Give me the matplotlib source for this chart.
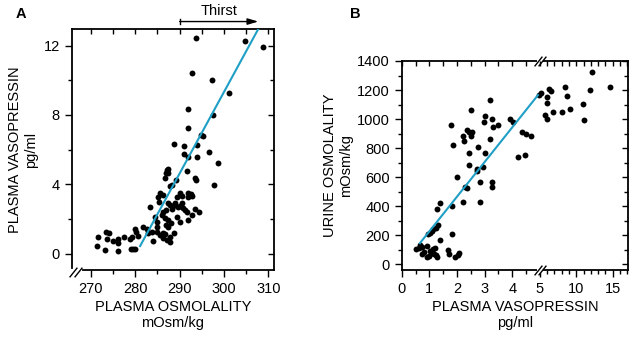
import matplotlib
matplotlib.use('Agg')
import matplotlib.pyplot as plt
import matplotlib.transforms as mtransforms
import numpy as np

plt.rcParams['font.family'] = ['Liberation Sans', 'DejaVu Sans']
plt.rcParams['font.size'] = 10.5

# --- panel A: plasma osmolality vs plasma vasopressin ---
osm_a = [293.6, 304.8, 308.7, 292.7, 297.3, 301.2, 291.8, 297.6, 291.8, 294.8,
         295.3, 288.8, 291.0, 293.8, 296.5, 291.0, 291.8, 294.0, 298.7, 287.4,
         297.8, 291.7, 293.4, 293.6,
         271.3, 271.6, 273.1, 273.4, 274.0, 273.7, 275.1, 276.1, 276.2, 276.1,
         277.5, 278.8, 279.0, 279.6, 280.0, 279.2, 279.9, 280.2, 280.7, 281.8,
         282.6, 282.9, 283.9, 283.7, 283.3, 284.4, 284.8, 285.0, 284.9, 285.2,
         285.4, 285.6, 286.2, 286.2, 286.7, 285.6, 286.3, 286.9, 287.4, 286.7,
         287.1, 287.8, 288.2, 289.2, 287.4, 287.8, 286.9, 286.3, 286.0, 286.7,
         287.4, 288.0, 286.9, 287.4, 287.8, 287.8, 287.1, 288.7, 288.2, 288.6,
         288.9, 289.7, 290.1, 290.1, 290.5, 290.5, 290.7, 289.5, 290.1, 291.2,
         291.6, 291.9, 292.5, 292.7, 291.8, 291.9, 292.7, 293.4, 294.3, 289.3]
avp_a = [12.43, 12.29, 11.91, 10.41, 10.02, 9.29, 8.37, 8.02, 7.24, 6.85,
         6.79, 6.31, 6.21, 6.27, 5.87, 5.74, 5.56, 5.60, 5.25, 4.87,
         3.94, 4.77, 4.35, 4.25,
         0.44, 0.96, 0.19, 1.23, 1.21, 0.85, 0.73, 0.83, 0.64, 0.17,
         0.96, 0.83, 0.25, 0.25, 0.25, 0.98, 1.41, 1.23, 1.00, 1.52,
         1.41, 1.18, 0.72, 1.27, 2.68, 2.14, 1.85, 1.56, 1.27, 3.29,
         3.00, 3.52, 3.39, 1.18, 1.14, 1.06, 0.89, 4.64, 4.64, 4.35,
         4.83, 3.90, 3.96, 4.25, 2.90, 2.80, 2.52, 2.42, 2.23, 2.04,
         1.94, 1.75, 1.66, 1.52, 0.98, 0.69, 0.79, 1.18, 2.56, 2.75,
         2.90, 2.71, 2.75, 3.49, 3.33, 2.90, 2.62, 2.14, 1.85, 2.52,
         2.42, 3.49, 3.45, 3.33, 3.25, 1.94, 2.23, 2.56, 2.42, 3.29]
fit_a_x = [281.1, 307.7]
fit_a_y = [0.44, 12.96]
thirst_start, thirst_end = 290.0, 307.7

# --- panel B: plasma vasopressin vs urine osmolality ---
avp_b = [0.51, 0.62, 0.66, 0.72, 0.72, 0.80, 0.90, 0.92, 1.00, 1.02,
         1.08, 1.14, 1.20, 1.18, 1.24, 1.26, 0.96, 1.02, 1.08, 1.15,
         1.24, 1.30, 1.26, 1.38, 1.38, 1.66, 1.70, 1.81, 1.81, 1.99,
         1.92, 2.04, 2.08, 2.22, 2.29, 2.35, 2.71, 2.83, 2.83, 3.27,
         3.27,
         3.21, 2.50, 1.77, 1.84, 3.01, 2.97, 3.26, 3.29, 3.48, 3.91,
         4.01, 2.37, 2.43, 2.56, 2.22, 2.25, 2.50, 3.19, 2.77, 2.43,
         3.02, 2.44, 2.73, 2.95, 4.37, 4.48, 4.69, 4.21, 4.45, 4.97,
         5.20, 6.27, 6.47, 6.00, 6.00, 5.68, 6.00, 6.83, 8.00, 8.42,
         8.79, 9.20, 10.9, 11.07, 11.94, 12.2, 14.6]
uosm_b = [103, 110, 133, 117, 68, 87, 126, 48, 57, 92,
          76, 108, 112, 70, 62, 50, 205, 216, 232, 241,
          252, 271, 379, 421, 168, 99, 68, 209, 404, 600,
          52, 62, 80, 428, 531, 527, 639, 566, 428, 563,
          531,
          1133, 1064, 961, 823, 1018, 983, 1000, 945, 959, 1000,
          983, 926, 914, 914, 880, 852, 880, 864, 807, 765,
          765, 680, 655, 669, 914, 899, 885, 738, 754, 1168,
          1179, 1207, 1190, 1152, 1110, 1030, 1002, 1048, 1048, 1218,
          1156, 1071, 1103, 995, 1202, 1324, 1221]
fit_b_x = [0.66, 4.93]
fit_b_y = [145, 1165]

teal = '#1f9fc6'
BREAK = 5.0
SQUEEZE = 0.2635   # axis is compressed above the break


def fwd(x):
    x = np.asarray(x, dtype=float)
    return np.where(x <= BREAK, x, BREAK + (x - BREAK) * SQUEEZE)


def inv(t):
    t = np.asarray(t, dtype=float)
    return np.where(t <= BREAK, t, BREAK + (t - BREAK) / SQUEEZE)


def style_ticks(ax, xmaj, xmin, ymaj, ymin, scale=None):
    ax.set_xticks(xmaj)
    ax.set_xticks(xmin, minor=True)
    ax.set_yticks(ymaj)
    ax.set_yticks(ymin, minor=True)
    ax.tick_params(which='major', direction='out', length=5, width=1, top=False, right=False)
    ax.tick_params(which='minor', direction='out', length=3, width=1, top=False, right=False)
    for s in ax.spines.values():
        s.set_linewidth(1.3)
    # inward ticks on the top and right sides
    top = ax.twiny()
    if scale is not None:
        top.set_xscale('function', functions=scale)
    top.set_xlim(ax.get_xlim())
    top.set_xticks(xmaj)
    top.set_xticks(xmin, minor=True)
    top.tick_params(which='both', direction='in', length=3.5, width=1, labeltop=False)
    right = ax.twinx()
    right.set_ylim(ax.get_ylim())
    right.set_yticks(ymaj)
    right.set_yticks(ymin, minor=True)
    right.tick_params(which='major', direction='in', length=4, width=1, labelright=False)
    right.tick_params(which='minor', direction='in', length=3, width=1)
    for t in (top, right):
        for s in t.spines.values():
            s.set_visible(False)


def slash_pair(ax, x, y, trans, offsets, erase=True):
    slash = [(-0.4, -0.5), (0.4, 0.5)]
    if erase:
        ax.plot([x], [y], transform=trans, marker='s', ms=4, mew=0,
                color='white', clip_on=False, zorder=10)
    for dx, dy in offsets:
        t = trans + mtransforms.ScaledTranslation(dx / 72, dy / 72, ax.figure.dpi_scale_trans)
        ax.plot([x], [y], transform=t, marker=slash, ms=7, mew=1,
                color='black', clip_on=False, zorder=11)


fig = plt.figure(figsize=(6.35, 3.4), dpi=100)

# panel A
ax1 = fig.add_axes([0.1129, 0.2059, 0.319, 0.7088])
ax1.scatter(osm_a, avp_a, s=18, color='black', linewidths=0, zorder=2)
ax1.plot(fit_a_x, fit_a_y, color=teal, lw=1.5, zorder=3)
ax1.set_xlim(265.7, 311.3)
ax1.set_ylim(-0.94, 12.96)
style_ticks(ax1, [270, 280, 290, 300, 310], [275, 285, 295, 305],
            [0, 4, 8, 12], [2, 6, 10])
ax1.set_xlabel('PLASMA OSMOLALITY\nmOsm/kg', labelpad=3, linespacing=1.15)
ax1.set_ylabel('PLASMA VASOPRESSIN\npg/ml', labelpad=4, linespacing=1.15)
ax1.spines['left'].set_bounds(-0.8, 12.96)
ax1.spines['bottom'].set_bounds(268.3, 311.3)
slash_pair(ax1, 0, 0, ax1.transAxes, [(1.3, -1.4), (4.9, -1.4)], erase=False)

# thirst range arrow above panel A
ax1.annotate('', xy=(thirst_end, 13.39), xytext=(thirst_start, 13.39),
             xycoords='data', annotation_clip=False,
             arrowprops=dict(arrowstyle='-|>,head_length=0.6,head_width=0.18',
                             color='black', lw=1, shrinkA=0, shrinkB=0))
ax1.plot([thirst_start, thirst_start], [13.27, 13.51], color='black', lw=1, clip_on=False)
ax1.text((thirst_start + thirst_end) / 2, 13.6, 'Thirst', ha='center', va='bottom')
fig.text(0.024, 0.958, 'A', fontweight='bold', fontsize=10.5, va='center')

# panel B
ax2 = fig.add_axes([0.6326, 0.2059, 0.3564, 0.6147])
ax2.set_xscale('function', functions=(fwd, inv))
ax2.scatter(avp_b, uosm_b, s=18, color='black', linewidths=0, zorder=2)
ax2.plot(fit_b_x, fit_b_y, color=teal, lw=1.5, zorder=3)
ax2.set_xlim(0, 17.1)
ax2.set_ylim(-40, 1400)
style_ticks(ax2, [0, 1, 2, 3, 4, 5, 10, 15],
            [0.5, 1.5, 2.5, 3.5, 4.5, 6, 7, 8, 9, 11, 12, 13, 14, 16, 17],
            list(range(0, 1401, 200)), list(range(100, 1400, 200)),
            scale=(fwd, inv))
ax2.set_xlabel('PLASMA VASOPRESSIN\npg/ml', labelpad=3, linespacing=1.15)
ax2.set_ylabel('URINE OSMOLALITY\nmOsm/kg', labelpad=3, linespacing=1.15)
brk = mtransforms.blended_transform_factory(ax2.transData, ax2.transAxes)
for yy in (0, 1):
    slash_pair(ax2, BREAK, yy, brk, [(-1.6, 0), (1.6, 0)])
fig.text(0.551, 0.958, 'B', fontweight='bold', fontsize=10.5, va='center')

fig.savefig('out.png', dpi=100)
